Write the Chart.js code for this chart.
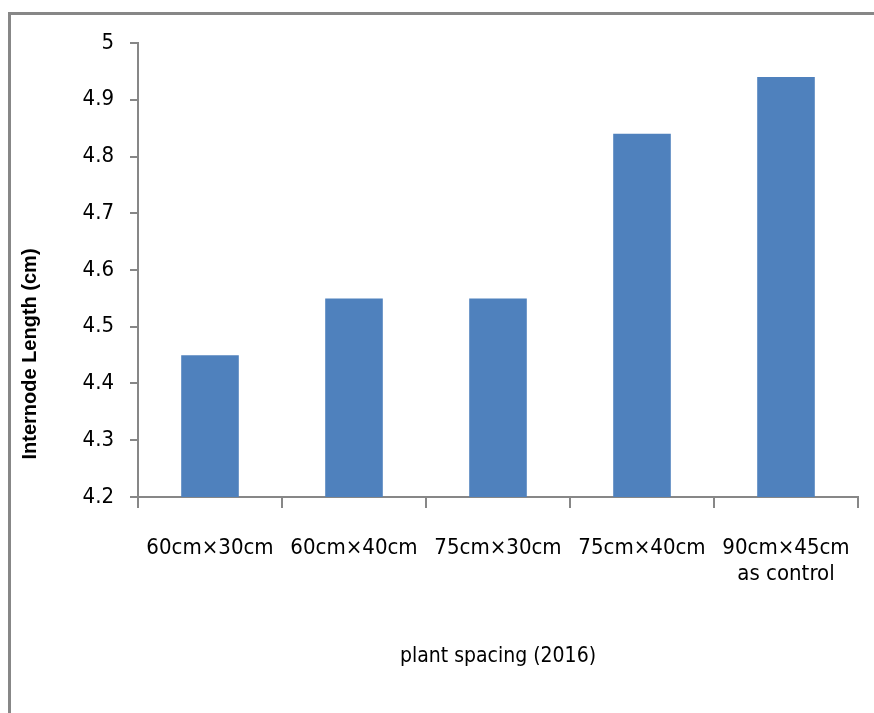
<!DOCTYPE html>
<html>
<head>
<meta charset="utf-8">
<script src="https://cdn.jsdelivr.net/npm/chart.js@4/dist/chart.umd.min.js"></script>
<style>
  html, body { margin: 0; padding: 0; background: #fff; overflow: hidden; }
  #frame {
    position: absolute; left: 8px; top: 12px; width: 900px; height: 800px;
    border: 3px solid #878787; box-sizing: border-box;
  }
  #wrap { position: absolute; left: 0; top: 0; width: 874px; height: 713px; }
</style>
</head>
<body>
<div id="frame"></div>
<div id="wrap"><canvas id="spacingChart" width="874" height="713"></canvas></div>
<script>
// chart data
const spacings = ['60cm×30cm', '60cm×40cm', '75cm×30cm', '75cm×40cm', ['90cm×45cm', 'as control']];
const internodeLength = [4.45, 4.55, 4.55, 4.84, 4.94];
const yTicks = [4.2, 4.3, 4.4, 4.5, 4.6, 4.7, 4.8, 4.9, 5];

const axisGrey = '#878787';
const labelFont = "'Liberation Sans Narrow', 'DejaVu Sans Condensed', sans-serif";

// vertical axis title sits below the middle of the plot in the original
const yTitlePlugin = {
    id: 'yTitle',
    afterDraw(chart) {
        const c = chart.ctx;
        const area = chart.chartArea;
        c.save();
        c.translate(30, area.top + (area.bottom - area.top) * 0.685);
        c.rotate(-Math.PI / 2);
        c.font = "bold 20px 'Liberation Sans', sans-serif";
        c.fillStyle = '#000';
        c.textAlign = 'center';
        c.textBaseline = 'middle';
        c.fillText('Internode Length (cm)', 0, 0);
        c.restore();
    }
};

const ctx = document.getElementById('spacingChart').getContext('2d');
new Chart(ctx, {
    type: 'bar',
    data: {
        labels: spacings,
        datasets: [{
            label: 'Internode Length',
            data: internodeLength,
            backgroundColor: '#4F81BD',
            borderWidth: 0,
            categoryPercentage: 1,
            barPercentage: 0.4
        }]
    },
    options: {
        responsive: false,
        animation: false,
        layout: { padding: { left: 0, right: 16, top: 43, bottom: 44 } },
        plugins: {
            legend: { display: false },
            tooltip: { enabled: false }
        },
        scales: {
            x: {
                grid: {
                    offset: true,
                    drawOnChartArea: false,
                    drawTicks: true,
                    tickLength: 11,
                    color: axisGrey,
                    lineWidth: 2
                },
                border: { color: axisGrey, width: 2 },
                ticks: {
                    color: '#000',
                    font: { family: labelFont, size: 22 },
                    padding: 27,
                    maxRotation: 0,
                    autoSkip: false
                },
                title: {
                    display: true,
                    text: 'plant spacing (2016)',
                    color: '#000',
                    font: { family: labelFont, size: 21 },
                    padding: 0
                },
                afterFit(scale) {
                    scale.height = 172;
                    scale.paddingLeft = 0;
                    scale.paddingRight = 0;
                }
            },
            y: {
                min: 4.2,
                max: 5,
                afterBuildTicks(scale) {
                    scale.ticks = yTicks.map(v => ({ value: v }));
                },
                grid: {
                    drawOnChartArea: false,
                    drawTicks: true,
                    tickLength: 8,
                    color: axisGrey,
                    lineWidth: 2
                },
                border: { color: axisGrey, width: 2 },
                ticks: {
                    color: '#000',
                    font: { family: labelFont, size: 22 },
                    padding: 16,
                    callback: v => String(v)
                },
                afterFit(scale) { scale.width = 138; }
            }
        }
    },
    plugins: [yTitlePlugin]
});
</script>
</body>
</html>
